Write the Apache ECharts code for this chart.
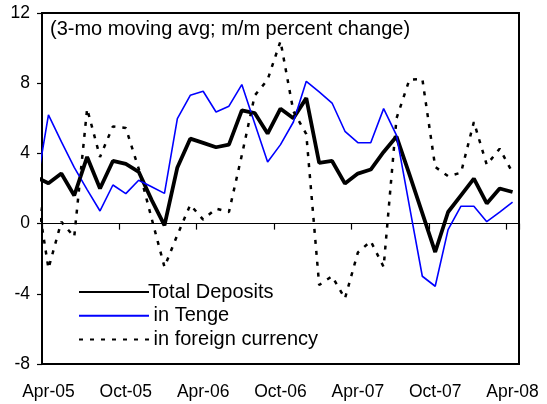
<!DOCTYPE html>
<html>
<head>
<meta charset="utf-8">
<script src="https://cdn.jsdelivr.net/npm/echarts@6/dist/echarts.min.js"></script>
<style>
html, body { margin: 0; background: #fff; }
#chart { width: 547px; height: 404px; }
</style>
</head>
<body>
<div id="chart"></div>
<script>
// months on the category axis
var months = ['Apr-05','May-05','Jun-05','Jul-05','Aug-05','Sep-05','Oct-05','Nov-05','Dec-05',
    'Jan-06','Feb-06','Mar-06','Apr-06','May-06','Jun-06','Jul-06','Aug-06','Sep-06','Oct-06',
    'Nov-06','Dec-06','Jan-07','Feb-07','Mar-07','Apr-07','May-07','Jun-07','Jul-07','Aug-07',
    'Sep-07','Oct-07','Nov-07','Dec-07','Jan-08','Feb-08','Mar-08','Apr-08'];
var yTicks = [-8, -4, 0, 4, 8, 12];

// values start one month earlier (Mar-05); that point sits outside the plot and is clipped
var totalDeposits = [2.65, 2.3, 2.85, 1.6, 3.8, 2.0, 3.57, 3.4, 2.95, 1.35, -0.1, 3.2, 4.84, 4.6,
    4.35, 4.5, 6.45, 6.3, 5.13, 6.55, 6.0, 7.15, 3.46, 3.57, 2.28, 2.85, 3.08, 4.08, 4.96, 2.8,
    0.6, -1.62, 0.66, 1.61, 2.56, 1.15, 2.0, 1.8];
var inTenge = [1.8, 6.2, 4.67, 3.2, 1.94, 0.72, 2.2, 1.71, 2.47, 2.1, 1.72, 5.98, 7.31, 7.54,
    6.36, 6.69, 7.92, 5.7, 3.51, 4.5, 5.79, 8.11, 7.5, 6.87, 5.26, 4.61, 4.61, 6.55, 5.03, 1.0,
    -3.0, -3.57, -0.34, 0.99, 0.99, 0.11, 0.66, 1.23];
var inForeign = [2.18, -2.56, 0.1, -0.76, 6.55, 3.8, 5.54, 5.45, 3.13, 0.3, -2.47, -0.65, 1.07,
    0.23, 0.85, 0.66, 3.9, 7.3, 8.2, 10.4, 6.4, 5.1, -3.5, -3.0, -4.27, -1.65, -1.0, -2.47, 6.0,
    8.2, 8.25, 3.23, 2.7, 2.9, 5.79, 3.35, 4.27, 2.9];

function toPoints(vals) {
    // index -1 = Mar-05
    return vals.map(function (v, k) { return [k - 1, v]; });
}

var font = 'Liberation Sans, Arial, sans-serif';
var gridTop = 13, gridHeight = 351;
// distance from the top edge of the plot down to the 0 line
var zeroOffset = gridHeight * yTicks[yTicks.length - 1] / (yTicks[yTicks.length - 1] - yTicks[0]);

var chart = echarts.init(document.getElementById('chart'), null, { renderer: 'canvas' });

chart.setOption({
    backgroundColor: '#fff',
    animation: false,
    title: {
        text: '(3-mo moving avg; m/m percent change)',
        left: 50, top: 19, padding: 0,
        textStyle: { fontFamily: font, fontSize: 20, fontWeight: 'normal', color: '#000' }
    },
    legend: {
        orient: 'vertical',
        left: 73, top: 277,
        itemWidth: 70, itemHeight: 14, itemGap: 3.7,
        itemStyle: { opacity: 0 },
        textStyle: { fontFamily: font, fontSize: 20, lineHeight: 20, color: '#000', padding: [0, 0, 0, -6] },
        data: ['Total Deposits', ' in Tenge', ' in foreign currency']
    },
    grid: {
        left: 42, right: 28, top: gridTop, height: gridHeight,
        outerBoundsMode: 'none',
        containLabel: false,
        show: true, borderColor: '#000', borderWidth: 2, backgroundColor: 'transparent'
    },
    xAxis: [{
        // month labels along the bottom
        type: 'category',
        data: months,
        position: 'bottom',
        axisLine: { show: false, onZero: false },
        axisTick: { show: false },
        axisLabel: { interval: 5, margin: 19, fontFamily: font, fontSize: 17.5, color: '#000' },
        splitLine: { show: false }
    }, {
        // zero line with tick marks (top axis moved down to 0)
        type: 'category',
        data: months,
        position: 'top',
        offset: -zeroOffset,
        boundaryGap: true,
        axisLine: { show: true, onZero: false, lineStyle: { color: '#000', width: 1 } },
        axisTick: { show: true, alignWithLabel: false, interval: 5, inside: true, length: 6,
            lineStyle: { color: '#000', width: 1.2 } },
        axisLabel: { show: true, interval: 5, color: 'rgba(0,0,0,0)', fontSize: 1 },
        splitLine: { show: false }
    }, {
        type: 'value',
        min: -0.5, max: 36.5,
        show: false
    }],
    yAxis: {
        type: 'value',
        min: yTicks[0], max: yTicks[yTicks.length - 1], interval: 4,
        axisLine: { show: true, onZero: false, lineStyle: { color: '#000', width: 2 } },
        axisTick: { show: true, inside: false, length: 5, lineStyle: { color: '#000', width: 1.2 } },
        axisLabel: { margin: 12, fontFamily: font, fontSize: 17.5, color: '#000' },
        splitLine: { show: false }
    },
    series: [{
        name: 'Total Deposits',
        type: 'line', xAxisIndex: 2,
        data: toPoints(totalDeposits),
        showSymbol: false, symbol: 'none',
        lineStyle: { color: '#000', width: 3.8 },
        itemStyle: { color: '#000' }
    }, {
        name: ' in Tenge',
        type: 'line', xAxisIndex: 2,
        data: toPoints(inTenge),
        showSymbol: false, symbol: 'none',
        lineStyle: { color: '#0000ff', width: 1.6 },
        itemStyle: { color: '#0000ff' }
    }, {
        name: ' in foreign currency',
        type: 'line', xAxisIndex: 2,
        data: toPoints(inForeign),
        showSymbol: false, symbol: 'none',
        lineStyle: { color: '#000', width: 2.5, type: [4, 7] },
        itemStyle: { color: '#000' }
    }]
});
</script>
</body>
</html>
